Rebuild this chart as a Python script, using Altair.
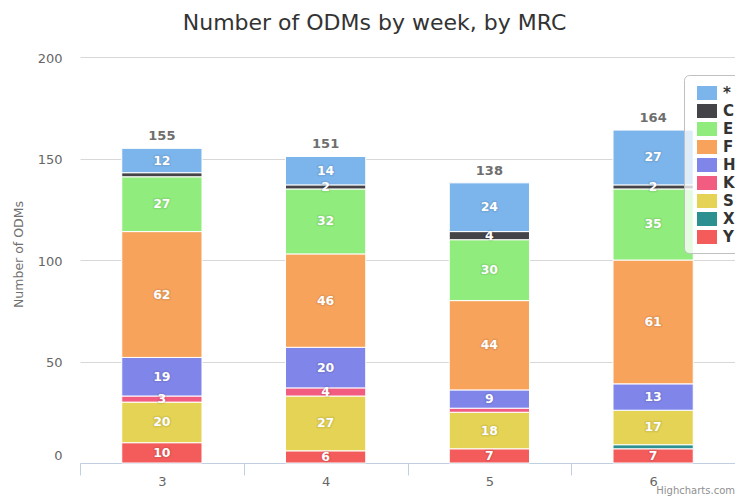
import altair as alt
import pandas as pd

# ---- data ----
weeks = ["3", "4", "5", "6"]
series = ["*", "C", "E", "F", "H", "K", "S", "X", "Y"]
colors = ["#7cb5ec", "#434348", "#90ed7d", "#f7a35c", "#8085e9",
          "#f15c80", "#e4d354", "#2b908f", "#f45b5b"]
v_star = [12, 14, 24, 27]
v_C = [2, 2, 4, 2]
v_E = [27, 32, 30, 35]
v_F = [62, 46, 44, 61]
v_H = [19, 20, 9, 13]
v_K = [3, 4, 2, 0]
v_S = [20, 27, 18, 17]
v_X = [0, 0, 0, 2]
v_Y = [10, 6, 7, 7]
hidden_labels = [("3", "C"), ("5", "K"), ("6", "X")]  # labels Highcharts dropped (overlap)
y_ticks = [0, 50, 100, 150, 200]
title_text = "Number of ODMs by week, by MRC"
y_title = "Number of ODMs"
credit_text = "Highcharts.com"

values = [v_star, v_C, v_E, v_F, v_H, v_K, v_S, v_X, v_Y]
rows = []
for i, (s, vals) in enumerate(zip(series, values)):
    for w, v in zip(weeks, vals):
        rows.append({"week": w, "series": s, "value": v, "idx": i,
                     "show": 0 if (w, s) in hidden_labels else 1})
df = pd.DataFrame(rows)

F = "DejaVu Sans"
W, H = 655, 406

x_enc = alt.X("week:N", sort=weeks, scale=alt.Scale(paddingInner=0, paddingOuter=0),
              axis=alt.Axis(title=None, labelAngle=0, labelFont=F, labelFontSize=13,
                            labelColor="#666666", labelPadding=0,
                            domainColor="#C0D0E0", domainWidth=1,
                            tickColor="#C0D0E0", tickSize=12, tickBand="extent",
                            grid=False))

y_axis = alt.Axis(values=y_ticks, title=y_title, grid=True, gridColor="#d8d8d8",
                  domain=False, ticks=False, tickSize=0, labelPadding=18,
                  labelFont=F, labelFontSize=13, labelColor="#666666",
                  labelOffset={"condition": {"test": "datum.value === 0", "value": -8},
                               "value": 1},
                  titleFont=F, titleFontSize=12.5, titleFontWeight="normal",
                  titleColor="#707070", titleAngle=270, titleAlign="center",
                  titleBaseline="middle", titleX=-62, titleY=197)
y_scale = alt.Scale(domain=[0, 200], nice=False)

base = (alt.Chart(df)
        .transform_filter("datum.value > 0")
        .transform_stack(stack="value", groupby=["week"], as_=["y0", "y1"],
                         sort=[alt.SortField("idx", order="descending")])
        .transform_calculate(mid="(datum.y0 + datum.y1) / 2"))

bars = base.mark_bar(stroke="white", strokeWidth=1,
                     width=alt.RelativeBandSize(0.49)).encode(
    x=x_enc,
    y=alt.Y("y0:Q", scale=y_scale, axis=y_axis, title=y_title),
    y2="y1:Q",
    color=alt.Color("series:N",
                    scale=alt.Scale(domain=series, range=colors),
                    legend=alt.Legend(orient="none", legendX=604, legendY=18, title=None,
                                      symbolType="M-1,-0.7L1,-0.7L1,0.7L-1,0.7Z",
                                      symbolSize=400, symbolStrokeWidth=0, symbolOpacity=1,
                                      symbolOffset=5, labelFont=F, labelFontSize=15,
                                      labelFontWeight="bold", labelColor="#333333",
                                      labelOffset=6, padding=8, rowPadding=-2,
                                      fillColor="rgba(255,255,255,0.75)",
                                      strokeColor="#c0c0c0", cornerRadius=5)),
    order=alt.Order("idx:Q", sort="descending"),
)

lab = base.transform_filter("datum.show == 1")
shadow = lab.mark_text(font=F, fontSize=12.5, fontWeight="bold", baseline="middle",
                       color="#000000", opacity=0.25, stroke="#000000", strokeWidth=3,
                       strokeOpacity=0.25, strokeJoin="round").encode(
    x=alt.X("week:N", sort=weeks), y=alt.Y("mid:Q", title=y_title), text="value:Q")
labels = lab.mark_text(font=F, fontSize=12.5, fontWeight="bold", baseline="middle",
                       color="#ffffff").encode(
    x=alt.X("week:N", sort=weeks), y=alt.Y("mid:Q", title=y_title), text="value:Q")

totals = (alt.Chart(df)
          .transform_aggregate(total="sum(value)", groupby=["week"])
          .mark_text(font=F, fontSize=13, fontWeight="bold", color="#6e6e6e",
                     baseline="middle", dy=-12)
          .encode(x=alt.X("week:N", sort=weeks), y=alt.Y("total:Q", title=y_title),
                  text="total:Q"))

credit = (alt.Chart(pd.DataFrame({"t": [credit_text]}))
          .mark_text(font=F, fontSize=10, color="#909090", align="right", baseline="bottom")
          .encode(x=alt.value(W), y=alt.value(H + 33), text="t:N"))

chart = (alt.layer(bars, shadow, labels, totals, credit)
         .properties(width=W, height=H,
                     padding={"left": 72, "top": 49, "right": 0, "bottom": 33},
                     autosize=alt.AutoSizeParams(type="none"),
                     title=alt.TitleParams(title_text, font=F, fontSize=22,
                                           fontWeight="normal", color="#333333",
                                           anchor="middle", frame="group", dx=-33,
                                           baseline="alphabetic", offset=0))
         .configure_view(strokeWidth=0))

chart.save("out.html", embed_options={"renderer": "svg", "actions": False})
